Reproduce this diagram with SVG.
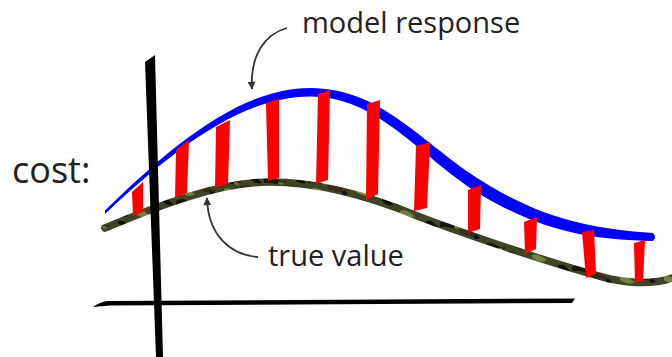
<svg xmlns="http://www.w3.org/2000/svg" width="672" height="357" viewBox="0 0 672 357">
  <style>
    .lbl { font-family: "Open Sans", "Noto Sans", "DejaVu Sans", sans-serif; fill: #222; }
    .bar { fill: #ff0000; }
    .ax { fill: #000; }
    .conn { fill: none; stroke: #333; stroke-width: 1.8; }
  </style>
  <defs>
    <pattern id="camo" patternUnits="userSpaceOnUse" width="44" height="22">
      <rect width="44" height="22" fill="#3e4524"/>
      <path d="M0,3 q6,-4 12,0 t10,2 q-3,5 -10,3 t-12,-1 z" fill="#15150c"/>
      <path d="M20,10 q7,-3 12,1 t9,3 q-4,4 -11,2 t-10,-2 z" fill="#3a2c1a"/>
      <path d="M4,13 q5,-2 9,1 t6,4 q-4,3 -9,1 t-6,-3 z" fill="#6f8240"/>
      <path d="M30,1 q5,-1 8,2 t4,4 q-5,1 -8,-1 t-4,-3 z" fill="#0d0d08"/>
      <path d="M14,6 q4,-1 6,2 q-3,2 -6,0 z" fill="#5f7035"/>
      <path d="M34,15 q4,0 6,3 q-3,2 -6,0 z" fill="#111"/>
    </pattern>
    <marker id="ah" viewBox="0 0 10 10" refX="9" refY="5" markerWidth="9" markerHeight="8" markerUnits="userSpaceOnUse" orient="auto">
      <path d="M0,0 L10,5 L0,10 Z" fill="#333"/>
    </marker>
  </defs>

  <g id="true-value-curve">
    <path d="M105,228 C160,205 220,182 270,182 C310,182 360,192 420,217 C470,236 560,266 610,279 C635,284 655,284 672,278" fill="none" stroke="url(#camo)" stroke-width="7.5" stroke-linecap="round"/>
  </g>

  <g id="model-response-curve">
    <path d="M105,210.5 C170,147 240,88 310,88 C382,88 422,144 482,181 C542,219 592,229 653,233 Q657,237 653,241 C590,240 540,231 478,193 C418,155 378,96.5 310,96.5 C240,96.5 170,153 105,214 Z" fill="#0000ff"/>
  </g>

  <g id="residuals">
    <polygon class="bar" points="132,192 143,182 143,212 133,216"/>
    <polygon class="bar" points="176,150 189,140 187,193 175,198"/>
    <polygon class="bar" points="216,127 230,120 228,184 215,188"/>
    <polygon class="bar" points="266,103 279,99 279,178 268,181"/>
    <polygon class="bar" points="318,94 330,90 328,180 316,184"/>
    <polygon class="bar" points="367,104 380,100 378,194 366,200"/>
    <polygon class="bar" points="416,146 430,142 427,208 414,211"/>
    <polygon class="bar" points="468,190 481,185 480,229 468,233"/>
    <polygon class="bar" points="524,222 537,217 536,249 525,254"/>
    <polygon class="bar" points="582,232 594,230 596,274 586,278"/>
    <polygon class="bar" points="634,243 645,240 643,281 635,283"/>
  </g>

  <g id="axes">
    <path class="ax" d="M145,62 L155,55 L163,357 L156,357 Z"/>
    <path class="ax" d="M93,307 C100,302 105,301 110,301 L575,298.5 L572,303 L110,305.5 Z"/>
  </g>

  <g id="label-cost">
    <text class="lbl" x="12" y="183" font-size="36">cost:</text>
  </g>
  <g id="label-model-response">
    <text class="lbl" x="302" y="33" font-size="29">model response</text>
  </g>
  <g id="label-true-value">
    <text class="lbl" x="268" y="266" font-size="29">true value</text>
  </g>

  <g id="connectors">
    <path class="conn" d="M287,28 C265,34 250,55 252,89" marker-end="url(#ah)"/>
    <path class="conn" d="M258,257 C230,255 208,235 207,198" marker-end="url(#ah)"/>
  </g>
</svg>
